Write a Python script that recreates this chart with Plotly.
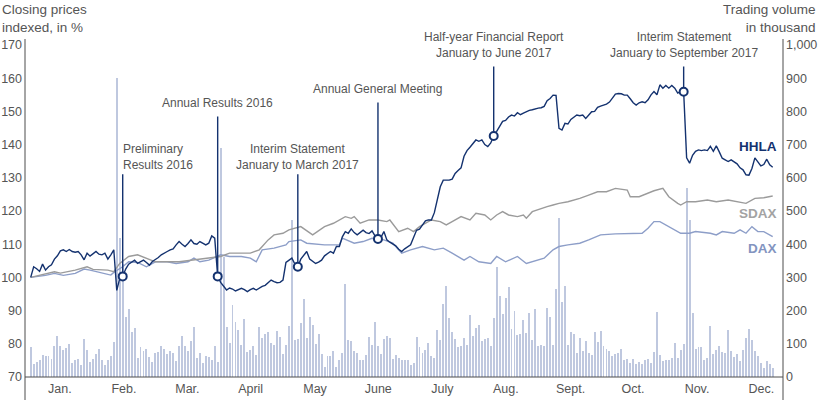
import plotly.graph_objects as go

# ---------------- data ----------------
days = list(range(251))  # trading-day index, 2017

hhla = [
    100.0, 103.2, 102.6, 101.8, 104.0, 102.2, 103.2, 103.8, 105.5, 106.5,
    108.0, 108.3, 107.8, 108.4, 107.8, 107.6, 107.8, 106.8, 105.3, 107.3,
    106.4, 107.0, 107.8, 107.0, 106.8, 107.3, 105.5, 106.8, 108.3, 96.1,
    99.7, 100.3, 102.5, 104.0, 104.5, 105.2, 104.2, 104.6, 105.2, 104.5,
    103.7, 104.8, 105.3, 106.0, 106.8, 107.4, 107.8, 108.3, 108.6, 109.8,
    110.8, 110.0, 109.3, 110.2, 111.3, 110.2, 110.0, 110.8, 110.2, 109.8,
    110.3, 112.5, 111.8, 100.3, 98.5, 97.2, 96.2, 96.8, 96.5, 95.9,
    96.2, 96.7, 96.3, 95.7, 96.3, 96.7, 96.2, 96.8, 97.3, 97.6,
    98.5, 99.2, 98.7, 98.4, 98.5, 99.2, 104.5, 105.3, 105.8, 104.0,
    103.2, 105.5, 106.5, 107.8, 105.5, 104.8, 104.2, 104.6, 105.2, 106.5,
    107.3, 107.8, 107.3, 109.3, 109.3, 112.2, 113.8, 113.3, 114.6, 113.5,
    112.8, 113.6, 114.2, 113.5, 113.2, 114.0, 112.5, 111.6, 112.0, 113.8,
    111.3, 110.6, 110.0, 109.5, 108.5, 107.8, 108.6, 109.3, 109.8, 112.0,
    114.2, 114.5, 115.6, 117.0, 117.3, 117.3, 119.5, 123.0, 127.3, 129.3,
    129.3, 129.3, 129.6, 131.3, 132.2, 133.0, 136.5, 138.2, 139.2, 140.4,
    141.4, 141.0, 141.4, 140.0, 139.4, 140.5, 142.6, 144.0, 145.5, 147.0,
    147.3, 148.3, 148.9, 148.6, 149.6, 149.0, 149.5, 150.0, 150.3, 150.5,
    150.8, 151.0, 151.1, 151.5, 153.2, 153.9, 154.9, 154.8, 144.9, 144.4,
    146.4, 146.2, 147.6, 148.2, 148.9, 148.7, 148.9, 147.9, 149.0, 149.9,
    150.0, 151.2, 151.6, 151.9, 152.2, 152.8, 154.0, 155.2, 155.4, 155.3,
    154.9, 154.9, 153.8, 152.6, 151.9, 152.6, 152.9, 152.6, 153.5, 155.0,
    156.0, 155.0, 158.0, 157.0, 157.8, 157.0, 157.8, 157.0, 155.5, 156.0,
    155.9, 136.0, 134.4, 136.8, 138.0, 138.4, 138.2, 138.4, 138.2, 139.5,
    138.0, 139.6, 137.8, 135.9, 135.4, 134.9, 135.4, 134.9, 134.2, 133.0,
    132.4, 130.9, 130.8, 132.8, 136.0, 134.8, 133.6, 134.0, 135.6, 133.9,
    133.2,
]

sdax_days = [0, 8, 10, 15, 19, 21, 26, 28, 30, 33, 36, 39, 42, 50, 54, 59, 64, 67, 74, 77,
             80, 82, 85, 87, 91, 95, 99, 102, 106, 108, 109, 111, 114, 117, 120, 121, 124, 127, 129, 131,
             135, 138, 140, 142, 145, 148, 150, 153, 155, 157, 159, 161, 164, 166, 167, 169, 172, 174, 176, 178,
             181, 185, 188, 191, 194, 197, 201, 202, 205, 208, 210, 213, 215, 218, 219, 221, 224, 228, 231, 235,
             238, 241, 244, 247, 250]
sdax = [100.0, 101.7, 101.3, 102.2, 103.2, 102.4, 102.2, 101.7, 104.2, 106.3, 106.8, 105.8, 104.7, 104.7, 105.2, 105.8, 106.3, 107.3, 107.3, 108.3,
        111.3, 112.8, 113.3, 114.3, 115.3, 112.8, 115.3, 116.3, 118.3, 117.8, 118.3, 116.3, 117.3, 117.3, 116.8, 117.3, 113.8, 114.8, 113.8, 115.3,
        117.3, 116.8, 115.8, 116.8, 118.3, 117.3, 119.3, 118.8, 117.3, 118.8, 119.8, 118.8, 118.3, 118.8, 117.8, 119.8, 120.8, 121.3, 121.8, 122.3,
        122.8, 123.8, 124.8, 125.8, 125.8, 126.8, 126.3, 124.3, 124.3, 125.3, 126.1, 126.8, 124.3, 122.3, 121.8, 122.8, 122.8, 123.3, 122.8, 123.3,
        122.8, 122.3, 123.8, 124.0, 124.5]

dax_days = [0, 5, 8, 11, 15, 18, 20, 22, 24, 27, 28, 31, 33, 36, 39, 42, 46, 49, 53, 55,
            57, 60, 64, 67, 71, 74, 76, 77, 78, 82, 86, 87, 91, 93, 99, 104, 105, 109, 112, 115,
            119, 122, 125, 128, 132, 136, 139, 142, 146, 148, 151, 155, 157, 160, 164, 167, 169, 173, 176, 178,
            181, 185, 188, 192, 197, 202, 206, 208, 210, 212, 214, 217, 219, 222, 224, 229, 231, 233, 237, 239,
            241, 243, 245, 247, 250]
dax = [100.0, 100.6, 101.2, 100.6, 101.2, 102.5, 102.2, 101.8, 101.2, 100.7, 101.5, 103.2, 104.7, 104.5, 103.2, 104.7, 104.7, 104.2, 104.7, 105.8,
       104.7, 105.2, 106.8, 106.3, 106.3, 105.8, 104.7, 106.3, 108.3, 108.8, 109.8, 110.8, 111.3, 110.3, 109.8, 109.8, 111.8, 110.3, 110.8, 111.8,
       111.3, 110.3, 107.3, 108.3, 109.3, 108.3, 108.8, 107.3, 105.2, 106.3, 104.7, 104.2, 106.3, 104.7, 106.3, 104.2, 104.7, 105.8, 108.3, 109.3,
       109.8, 110.3, 111.3, 112.8, 113.1, 113.3, 113.3, 114.8, 116.8, 116.8, 115.8, 114.3, 113.3, 113.3, 113.8, 113.3, 112.8, 113.8, 113.3, 114.3,
       113.3, 115.3, 113.8, 113.8, 112.3]

volume = [
    90, 40, 45, 52, 67, 62, 62, 54, 94, 124, 94, 80, 87, 100, 42, 52, 54, 36, 114, 80,
    44, 54, 70, 84, 52, 36, 52, 64, 104,
    900, 420, 340,
    180, 204, 137, 147, 58, 90, 77, 84, 60, 45, 72, 74, 92, 84, 68, 78, 72, 47, 92, 124,
    92, 77, 107, 152, 57, 72, 42, 62, 60, 50, 92, 44,
    690, 360,
    150, 102, 217, 166, 142, 97, 175, 74, 82, 94, 66, 152, 117, 130, 137, 101, 97, 139,
    120, 70, 97, 154, 473, 110, 114, 164, 235, 117, 182, 157, 100, 130, 70, 30, 64, 62, 77, 30,
    52, 72, 280, 112, 107, 79, 72, 52, 52, 67, 122, 97, 167, 94, 70, 114, 124, 117, 54, 67,
    57, 52, 52, 50, 37, 42, 122, 90, 72, 80, 102, 64, 57, 142, 110, 220, 275, 177, 135, 114,
    90, 94, 117, 97, 187, 125, 147, 157, 107, 114, 117, 94, 177,
    330,
    244, 190, 237, 272, 144, 200, 127, 130, 172, 134, 194, 112, 204, 94, 97, 92, 207, 182, 97, 264, 480,
    225, 274, 97, 137, 130, 72, 117, 77, 109, 72, 67, 137, 104, 139, 92, 84, 77, 62, 70, 72,
    84, 50, 54, 42, 54, 39, 45, 40, 50, 54, 42, 76, 195, 67, 47, 52, 50, 57, 102, 57, 80, 100,
    569, 473,
    194, 85, 89, 90, 50, 57, 154, 70, 82, 92, 74, 72, 142, 77, 60, 70, 47, 82, 117, 145,
    110, 79, 64, 42, 27, 49, 39, 27,
]

month_labels = ["Jan.", "Feb.", "Mar.", "April", "May", "June", "July", "Aug.", "Sept.", "Oct.", "Nov.", "Dec."]
month_pos = [9.8, 31.4, 52.8, 74.1, 95.8, 117.1, 138.7, 160.1, 181.9, 202.9, 224.5, 246.2]

price_ticks = [70, 80, 90, 100, 110, 120, 130, 140, 150, 160, 170]
volume_ticks = [0, 100, 200, 300, 400, 500, 600, 700, 800, 900, 1000]

event_days = [31, 63, 90, 117, 156, 220]
event_labels = ["Preliminary<br>Results 2016", "Annual Results 2016",
                "Interim Statement<br>January to March 2017", "Annual General Meeting",
                "Half-year Financial Report<br>January to June 2017",
                "Interim Statement<br>January to September 2017"]

# ---------------- style ----------------
HHLA_C = "#14326f"
SDAX_C = "#9b9b9b"
DAX_C = "#8d9ec8"
VOL_C = "#bfc8df"
TXT = "#555555"
AXIS_C = "#4d4d4d"
FONT = "Liberation Sans, Arial, sans-serif"

# positions of the event texts / line tops (layout only)
event_line_top = [131.5, 148.9, 131.5, 153.1, 164.0, 164.0]          # in price units
event_text_y = [0.664, 0.8238, 0.6627, 0.866, 1.0, 1.0]              # paper units
event_text_anchor = ["left", "center", "center", "center", "center", "center"]
event_text_xshift = [-2, 0, 0, 0, 0, 0]

fig = go.Figure()
fig.add_trace(go.Bar(x=days, y=volume, yaxis="y", width=0.32,
                     marker=dict(color=VOL_C, line=dict(width=0)), hoverinfo="skip"))
fig.add_trace(go.Scatter(x=dax_days, y=dax, yaxis="y2", mode="lines",
                         line=dict(color=DAX_C, width=1.4)))
fig.add_trace(go.Scatter(x=sdax_days, y=sdax, yaxis="y2", mode="lines",
                         line=dict(color=SDAX_C, width=1.4)))
fig.add_trace(go.Scatter(x=days, y=hhla, yaxis="y2", mode="lines",
                         line=dict(color=HHLA_C, width=1.4)))

annotations = []
for d, lab, top, ty, anc, xs in zip(event_days, event_labels, event_line_top,
                                     event_text_y, event_text_anchor, event_text_xshift):
    annotations.append(dict(x=d, y=hhla[d], xref="x", yref="y2", axref="x", ayref="y2",
                            ax=d, ay=top, text="", showarrow=True, arrowhead=0,
                            arrowwidth=1.4, arrowcolor=HHLA_C, standoff=4))
    annotations.append(dict(x=d, y=ty, xref="x", yref="paper", text=lab, showarrow=False,
                            xanchor=anc, yanchor="middle", xshift=xs,
                            align="left" if anc == "left" else "center",
                            font=dict(family=FONT, size=12, color=TXT)))

fig.add_trace(go.Scatter(x=event_days, y=[hhla[d] for d in event_days], yaxis="y2",
                         mode="markers", marker=dict(size=8, color="white",
                                                     line=dict(color=HHLA_C, width=2))))

annotations += [
    dict(x=-0.033, y=1.1355, xref="paper", yref="paper", xanchor="left", yanchor="top",
         align="left", showarrow=False, text="Closing prices<br>indexed, in %",
         font=dict(family=FONT, size=13.5, color=TXT)),
    dict(x=1.0462, y=1.1355, xref="paper", yref="paper", xanchor="right", yanchor="top",
         align="right", showarrow=False, text="Trading volume<br>in thousand",
         font=dict(family=FONT, size=13.5, color=TXT)),
    dict(x=0.9947, y=139.3, xref="paper", yref="y2", xanchor="right", yanchor="middle",
         showarrow=False, text="<b>HHLA</b>", font=dict(family=FONT, size=13.5, color=HHLA_C)),
    dict(x=0.9947, y=119.1, xref="paper", yref="y2", xanchor="right", yanchor="middle",
         showarrow=False, text="<b>SDAX</b>", font=dict(family=FONT, size=13.5, color="#a3a3a3")),
    dict(x=0.9947, y=108.6, xref="paper", yref="y2", xanchor="right", yanchor="middle",
         showarrow=False, text="<b>DAX</b>", font=dict(family=FONT, size=13.5, color="#8394c0")),
]

shapes = [
    dict(type="line", xref="paper", yref="paper", x0=0, x1=0, y0=-0.0693, y1=1.018,
         line=dict(color=AXIS_C, width=1)),
    dict(type="line", xref="paper", yref="paper", x0=1, x1=1, y0=-0.0693, y1=1.018,
         line=dict(color=AXIS_C, width=1)),
    dict(type="line", xref="paper", yref="paper", x0=0, x1=1, y0=0, y1=0,
         line=dict(color=AXIS_C, width=1)),
]

fig.update_layout(
    width=820, height=400,
    margin=dict(l=25, r=37, t=45, b=23, autoexpand=False),
    plot_bgcolor="white", paper_bgcolor="white",
    showlegend=False, bargap=0,
    font=dict(family=FONT, color=TXT, size=12),
    xaxis=dict(range=[-1.92, 253.47], tickvals=month_pos, ticktext=month_labels,
               showgrid=False, zeroline=False, showline=False, ticks="", automargin=False,
               tickfont=dict(family=FONT, size=12.5, color=TXT), ticklabelstandoff=2),
    yaxis=dict(side="right", range=[0, 1000], tickvals=volume_ticks, tickformat=",",
               showgrid=False, zeroline=False, showline=False, ticks="", automargin=False,
               tickfont=dict(family=FONT, size=12.5, color=TXT), ticklabelstandoff=2),
    yaxis2=dict(overlaying="y", side="left", range=[70, 170], tickvals=price_ticks,
                showgrid=False, zeroline=False, showline=False, ticks="", automargin=False,
                tickfont=dict(family=FONT, size=12.5, color=TXT), ticklabelstandoff=2),
    annotations=annotations,
    shapes=shapes,
)

fig.write_html("out.html")
